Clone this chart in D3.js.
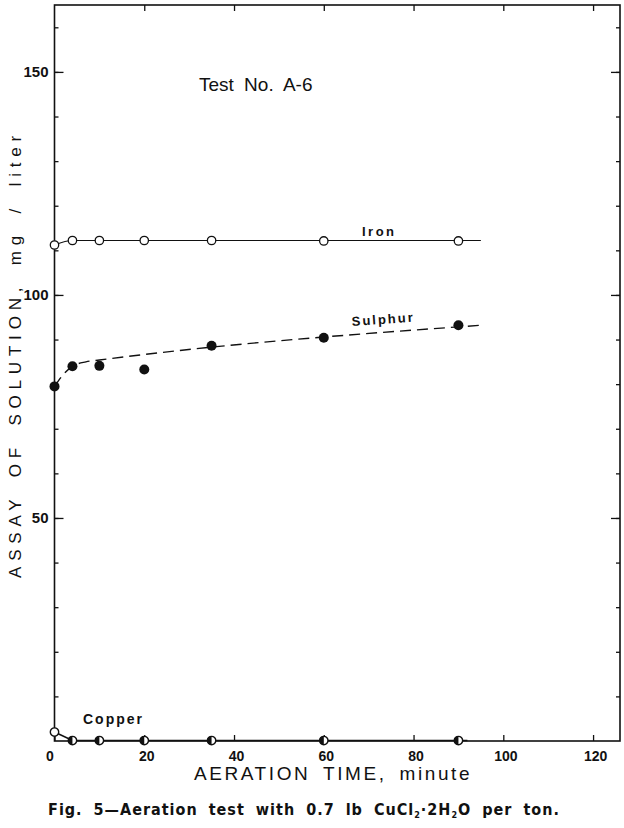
<!DOCTYPE html>
<html><head><meta charset="utf-8">
<script src="https://cdn.jsdelivr.net/npm/d3@7"></script>
<style>body{margin:0;background:#fff}svg{display:block}</style>
</head><body>
<svg id="c" width="624" height="828"></svg>
<script>
const times = [0, 4, 10, 20, 35, 60, 90];
const iron = [111.2, 112.2, 112.2, 112.2, 112.2, 112.1, 112.1];
const sulphur = [79.5, 84.0, 84.1, 83.3, 88.6, 90.4, 93.2];
const copper = [2.0, 0.1, 0.1, 0.1, 0.1, 0.1, 0.1];
// drawn (smoothed) curves
const ironCurveX = [0, 4, 95];
const ironCurveY = [111.2, 112.2, 112.2];
const sulphurCurveX = [0, 2, 4, 7, 10, 95];
const sulphurCurveY = [79.5, 82.2, 84.0, 85.0, 85.4, 93.2];
const copperCurveX = [0, 4, 92];
const copperCurveY = [2.0, 0.1, 0.1];
const xTicks = [0, 20, 40, 60, 80, 100, 120];
const yMajor = [50, 100, 150];
const yMinor = d3.range(10, 170, 10);

const svg = d3.select("#c");
const L = 54.5, R = 620, T = 5, B = 741;
const x = d3.scaleLinear().domain([0, 126]).range([L, R]);
const y = d3.scaleLinear().domain([0, 165]).range([B, T]);
const font = "'Liberation Sans', Arial, sans-serif";

// frame
svg.append("rect").attr("x", L).attr("y", T).attr("width", R - L).attr("height", B - T)
  .attr("fill", "none").attr("stroke", "#111").attr("stroke-width", 1.6);

function styleAxis(g) {
  g.select(".domain").remove();
  g.selectAll("line").attr("stroke", "#111").attr("stroke-width", 1.3);
  g.selectAll("text").attr("fill", "#111").attr("font-family", font).attr("font-weight", "bold");
}
// left axis minor + major
svg.append("g").attr("transform", `translate(${L},0)`)
  .call(d3.axisLeft(y).tickValues(yMinor).tickSize(-4).tickFormat("")).call(styleAxis);
svg.append("g").attr("transform", `translate(${L},0)`)
  .call(d3.axisLeft(y).tickValues(yMajor).tickSize(-9).tickPadding(5)).call(styleAxis)
  .selectAll("text").attr("font-size", 15).attr("dx", -1);
// right axis
svg.append("g").attr("transform", `translate(${R},0)`)
  .call(d3.axisRight(y).tickValues(yMinor).tickSize(-4).tickFormat("")).call(styleAxis);
svg.append("g").attr("transform", `translate(${R},0)`)
  .call(d3.axisRight(y).tickValues(yMajor).tickSize(-9).tickFormat("")).call(styleAxis);
// bottom axis
svg.append("g").attr("transform", `translate(0,${B})`)
  .call(d3.axisBottom(x).tickValues(xTicks).tickSize(-6).tickPadding(9)).call(styleAxis)
  .selectAll("text").attr("font-size", 14).attr("dy", "0.75em")
  .attr("dx", d => d === 0 ? -5 : 2);
// top axis
svg.append("g").attr("transform", `translate(0,${T})`)
  .call(d3.axisTop(x).tickValues(xTicks.slice(1)).tickSize(-6).tickFormat("")).call(styleAxis);

// lines
const line = d3.line().x(d => x(d[0])).y(d => y(d[1]));
svg.append("path").datum(d3.zip(ironCurveX, ironCurveY))
  .attr("d", line.curve(d3.curveMonotoneX)).attr("fill", "none").attr("stroke", "#111").attr("stroke-width", 1.1);
svg.append("path").datum(d3.zip(sulphurCurveX, sulphurCurveY))
  .attr("d", line.curve(d3.curveMonotoneX)).attr("fill", "none").attr("stroke", "#111")
  .attr("stroke-width", 1.4).attr("stroke-dasharray", "11,6");
svg.append("path").datum(d3.zip(copperCurveX, copperCurveY))
  .attr("d", line.curve(d3.curveLinear)).attr("fill", "none").attr("stroke", "#111").attr("stroke-width", 1.6);

// points
svg.append("g").selectAll("circle").data(d3.zip(times, iron)).join("circle")
  .attr("cx", d => x(d[0])).attr("cy", d => y(d[1])).attr("r", 4.2)
  .attr("fill", "#fff").attr("stroke", "#111").attr("stroke-width", 1.3);
svg.append("g").selectAll("circle").data(d3.zip(times, sulphur)).join("circle")
  .attr("cx", d => x(d[0])).attr("cy", d => y(d[1])).attr("r", 5)
  .attr("fill", "#111");
const cg = svg.append("g").selectAll("g").data(d3.zip(times, copper)).join("g")
  .attr("transform", d => `translate(${x(d[0])},${y(d[1])})`);
cg.append("circle").attr("r", 4.2).attr("fill", "#fff").attr("stroke", "#111").attr("stroke-width", 1.4);
cg.filter((d, i) => i > 0).append("path")
  .attr("d", d3.arc()({innerRadius: 0, outerRadius: 4.2, startAngle: Math.PI, endAngle: 2 * Math.PI}))
  .attr("fill", "#111");

// labels
svg.append("text").attr("x", 199).attr("y", 91).attr("font-family", font).attr("font-size", 19)
  .attr("word-spacing", 5).attr("fill", "#111").text("Test No. A-6");
svg.append("text").attr("x", 362).attr("y", 236).attr("font-family", font).attr("font-size", 13)
  .attr("letter-spacing", 2.5).attr("font-weight", "bold").attr("fill", "#111").text("Iron");
svg.append("text").attr("transform", "translate(352,326) rotate(-4)").attr("font-family", font).attr("font-size", 13)
  .attr("letter-spacing", 2).attr("font-weight", "bold").attr("fill", "#111").text("Sulphur");
svg.append("text").attr("x", 83).attr("y", 724).attr("font-family", font).attr("font-size", 14)
  .attr("letter-spacing", 2).attr("font-weight", "bold").attr("fill", "#111").text("Copper");

svg.append("text").attr("transform", "translate(21,354) rotate(-90)").attr("text-anchor", "middle")
  .attr("font-family", font).attr("font-size", 17).attr("letter-spacing", 5.8).attr("word-spacing", 6)
  .attr("fill", "#111").text("ASSAY OF SOLUTION, mg / liter");
svg.append("text").attr("x", 333).attr("y", 780).attr("text-anchor", "middle")
  .attr("font-family", font).attr("font-size", 19).attr("letter-spacing", 2.6).attr("word-spacing", 5)
  .attr("fill", "#111").text("AERATION TIME, minute");

const cap = svg.append("text").attr("x", 304).attr("y", 815).attr("text-anchor", "middle")
  .attr("font-family", "'DejaVu Sans Condensed','DejaVu Sans',sans-serif").attr("font-size", 16)
  .attr("font-weight", "bold")
  .attr("letter-spacing", 1.0).attr("word-spacing", 5).attr("fill", "#111");
cap.append("tspan").text("Fig. 5\u2014Aeration test with 0.7 lb CuCl");
cap.append("tspan").attr("font-size", 9).attr("dy", 3).text("2");
cap.append("tspan").attr("dy", -3).text("\u00b72H");
cap.append("tspan").attr("font-size", 9).attr("dy", 3).text("2");
cap.append("tspan").attr("dy", -3).text("O per ton.");
</script>
</body></html>
